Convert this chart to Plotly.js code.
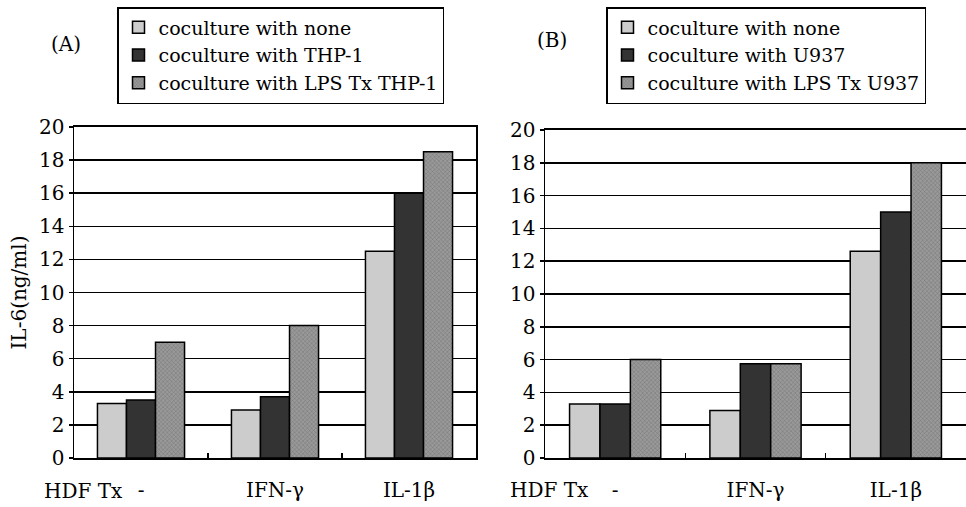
<!DOCTYPE html>
<html>
<head>
<meta charset="utf-8">
<script src="https://cdn.plot.ly/plotly-3.0.1.min.js"></script>
<style>html,body{margin:0;padding:0;background:#fff;}#chart{width:966px;height:507px;}</style>
</head>
<body>
<div id="chart"></div>
<script>
var categories = ['-', 'IFN-γ', 'IL-1β'];
var seriesA = ['coculture with none', 'coculture with THP-1', 'coculture with LPS Tx THP-1'];
var seriesB = ['coculture with none', 'coculture with U937', 'coculture with LPS Tx U937'];
var A_none = [3.3, 2.9, 12.5];
var A_thp1 = [3.5, 3.7, 16.0];
var A_lps = [7.0, 8.0, 18.5];
var B_none = [3.3, 2.9, 12.6];
var B_u937 = [3.3, 5.75, 15.0];
var B_lps = [6.0, 5.75, 18.0];
var yTicks = [0, 2, 4, 6, 8, 10, 12, 14, 16, 18, 20];

var FONT = 'DejaVu Serif';
var lineStyle = {color: '#000', width: 1.5};
function mk(name, y, xa, ya, leg, style) {
  var m = {color: style.color, line: lineStyle};
  if (style.pattern) m.pattern = style.pattern;
  return {type: 'bar', name: name, x: categories, y: y, xaxis: xa, yaxis: ya,
          legend: leg, marker: m, hoverinfo: 'skip'};
}
var sLight = {color: '#cccccc'};
var sDark = {color: '#333333'};
var sLps = {color: '#8c8c8c', pattern: {shape: 'x', size: 3, solidity: 0.25, fgcolor: '#6e6e6e', bgcolor: '#999999', fillmode: 'replace'}};

var data = [
  mk(seriesA[0], A_none, 'x', 'y', 'legend', sLight),
  mk(seriesA[1], A_thp1, 'x', 'y', 'legend', sDark),
  mk(seriesA[2], A_lps, 'x', 'y', 'legend', sLps),
  mk(seriesB[0], B_none, 'x2', 'y2', 'legend2', sLight),
  mk(seriesB[1], B_u937, 'x2', 'y2', 'legend2', sDark),
  mk(seriesB[2], B_lps, 'x2', 'y2', 'legend2', sLps)
];

var W = 966, H = 507, T = 127, B = 49;
var plotH = H - T - B;
function xa(d0, d1, mirror) {
  return {domain: [d0 / W, d1 / W], type: 'category', showline: true, linecolor: '#000', linewidth: 2,
          mirror: mirror, showgrid: false, ticks: 'inside', tickson: 'boundaries', ticklen: 5,
          tickcolor: '#000', tickwidth: 1.5, ticklabelstandoff: 13,
          tickfont: {family: FONT, size: 20, color: '#000'}, fixedrange: true};
}
function ya(top, anchor, mirror, title) {
  var o = {domain: [0, (H - B - top) / plotH], anchor: anchor, range: [0, 20], tickvals: yTicks,
          showline: true, linecolor: '#000', linewidth: 1.5, mirror: mirror,
          showgrid: true, gridcolor: '#000', gridwidth: 1.5, zeroline: false,
          ticks: 'outside', ticklen: 4, tickcolor: '#000', tickwidth: 1.5,
          tickfont: {family: FONT, size: 20, color: '#000'}, fixedrange: true};
  if (title) o.title = {text: title, font: {family: FONT, size: 20, color: '#000'}, standoff: 7};
  return o;
}
var xA = xa(74, 476, true); xA.anchor = 'y';
var xB = xa(545, 966, true); xB.anchor = 'y2';

var legFont = {family: FONT, size: 19, color: '#000'};
var layout = {
  width: W, height: H,
  margin: {l: 0, r: 0, t: T, b: B},
  paper_bgcolor: '#fff', plot_bgcolor: 'rgba(0,0,0,0)',
  barmode: 'group', bargap: 0.35, bargroupgap: 0,
  showlegend: true,
  xaxis: xA, xaxis2: xB,
  yaxis: ya(T, 'x', true, 'IL-6(ng/ml)'),
  yaxis2: ya(130, 'x2', false, null),
  legend: {x: 117 / W, xanchor: 'left', y: (H - B - 7) / plotH, yanchor: 'top',
           bordercolor: '#000', borderwidth: 1.5, bgcolor: '#fff', font: legFont, traceorder: 'normal'},
  legend2: {x: 606 / W, xanchor: 'left', y: (H - B - 7) / plotH, yanchor: 'top',
           bordercolor: '#000', borderwidth: 1.5, bgcolor: '#fff', font: legFont, traceorder: 'normal'},
  annotations: [
    {text: '(A)', xref: 'paper', yref: 'paper', x: 66 / W, y: (H - B - 44) / plotH, xanchor: 'center', yanchor: 'middle',
     showarrow: false, font: {family: FONT, size: 20, color: '#000'}},
    {text: '(B)', xref: 'paper', yref: 'paper', x: 552 / W, y: (H - B - 40) / plotH, xanchor: 'center', yanchor: 'middle',
     showarrow: false, font: {family: FONT, size: 20, color: '#000'}},
    {text: 'HDF Tx', xref: 'paper', yref: 'paper', x: 83 / W, y: (H - B - 491) / plotH, xanchor: 'center', yanchor: 'middle',
     showarrow: false, font: {family: FONT, size: 20, color: '#000'}},
    {text: 'HDF Tx', xref: 'paper', yref: 'paper', x: 549 / W, y: (H - B - 490) / plotH, xanchor: 'center', yanchor: 'middle',
     showarrow: false, font: {family: FONT, size: 20, color: '#000'}}
  ]
};
Plotly.newPlot('chart', data, layout, {displayModeBar: false, staticPlot: true});
</script>
</body>
</html>
